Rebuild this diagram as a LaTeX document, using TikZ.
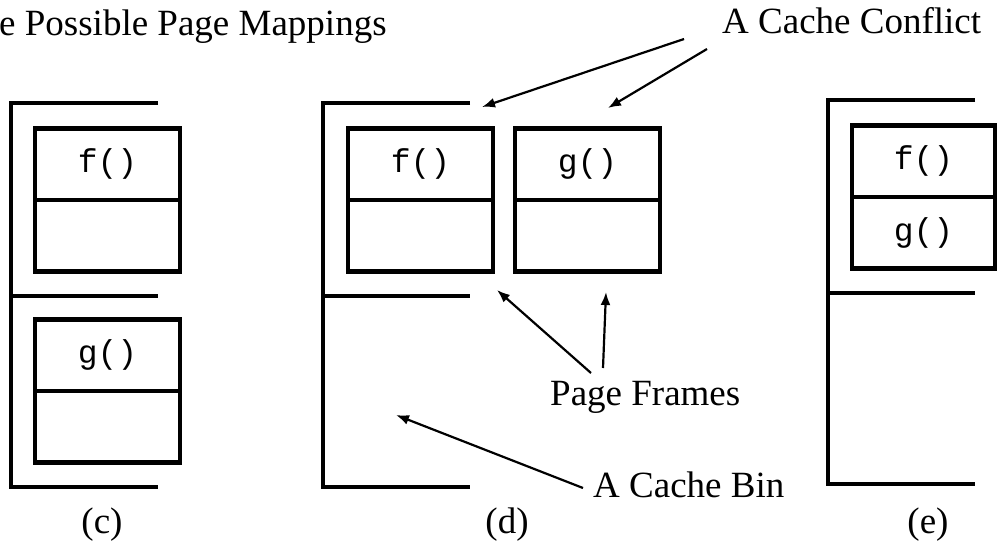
\documentclass[tikz,border=0pt]{standalone}
\usepackage{fontspec}
\setmainfont{Liberation Serif}
\setmonofont{Liberation Mono}
\usepackage{tikz}
\usetikzlibrary{arrows.meta,positioning}

\begin{document}
\begin{tikzpicture}[
            x=1pt, y=-1pt,
            bin/.style={line width=4.5pt},
            cell/.style={draw,line width=4.5pt,rectangle,minimum width=145pt,minimum height=71.5pt,
                         inner sep=0pt,outer sep=0pt,font=\ttfamily\fontsize{33}{33}\selectfont},
            caption/.style={inner sep=0pt,font=\fontsize{37}{37}\selectfont},
            >={Latex[length=13pt,width=10pt]}
        ]
        \useasboundingbox (0,0) rectangle (998,544);

        % Draw cache bins %
        \foreach \x/\y in {11/103, 323/103, 828/100} {
            \draw[bin] (\x+147,\y) -| (\x,\y+384) -- (\x+147,\y+384);
            \draw[bin] (\x,\y+193) -- (\x+147,\y+193);
        }

        % Draw page frames, mapping (c) %
        \node[cell] (cf) at (107.5,164) {f()};
        \node[cell,below=0pt of cf] (cf2) {};
        \node[cell] (cg) at (107.5,355) {g()};
        \node[cell,below=0pt of cg] (cg2) {};

        % Draw page frames, mapping (d) %
        \node[cell] (df) at (420.5,164) {f()};
        \node[cell,below=0pt of df] (df2) {};
        \node[cell] (dg) at (587.5,164) {g()};
        \node[cell,below=0pt of dg] (dg2) {};

        % Draw page frames, mapping (e) %
        \node[cell,minimum width=143pt] (ef) at (923.5,161) {f()};
        \node[cell,minimum width=143pt,below=0pt of ef] (eg) {g()};

        % Labels %
        \node[caption,anchor=base west] (title) at (-1,35) {e Possible Page Mappings};
        \node[caption,anchor=base west] (conflict) at (722,33) {A Cache Conflict};
        \node[caption,anchor=base west] (frames) at (550,405) {Page Frames};
        \node[caption,anchor=base west] (cachebin) at (593,497) {A Cache Bin};
        \node[caption,anchor=base] (c) at (102,533) {(c)};
        \node[caption,anchor=base] (d) at (507,533) {(d)};
        \node[caption,anchor=base] (e) at (928,533) {(e)};

        % Arrow ends %
        \coordinate (conflict1) at (684,39);
        \coordinate (conflict2) at (707,49);
        \coordinate (binend) at (482,107);
        \coordinate (frameend) at (608,108);
        \coordinate (frames1) at (591,373);
        \coordinate (frames2) at (603,368);
        \coordinate (fframe) at (497,290);
        \coordinate (gframe) at (606,292);
        \coordinate (cachebin1) at (583,488);
        \coordinate (binspace) at (396,415);

        % Draw arrows %
        \draw[->,line width=2.2pt] (conflict1) -- (binend);
        \draw[->,line width=2.2pt] (conflict2) -- (frameend);
        \draw[->,line width=2.2pt] (frames1) -- (fframe);
        \draw[->,line width=2.2pt] (frames2) -- (gframe);
        \draw[->,line width=2.2pt] (cachebin1) -- (binspace);
\end{tikzpicture}
\end{document}
